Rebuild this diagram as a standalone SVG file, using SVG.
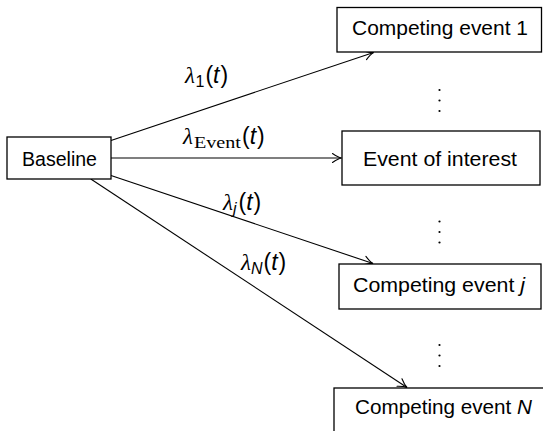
<svg xmlns="http://www.w3.org/2000/svg" width="543" height="431" viewBox="0 0 543 431">
  <style>
    .box { fill: #ffffff; stroke: #000000; stroke-width: 1.3; }
    .lbl { font-family: "Liberation Sans", Arial, sans-serif; font-size: 20.5px; fill: #000000; }
    .math { font-family: "Liberation Sans", Arial, sans-serif; font-size: 23px; fill: #000000; }
    .lam { font-family: "Liberation Serif", "DejaVu Serif", serif; font-style: italic; }
    .it { font-style: italic; }
    .sub { font-size: 16px; }
    .rm { font-family: "Liberation Serif", "DejaVu Serif", serif; font-size: 17px; }
    .edge { fill: none; stroke: #000000; stroke-width: 1.1; marker-end: url(#to); }
    .dot { fill: #000000; }
  </style>
  <defs>
    <!-- open "to"-style arrow tip -->
    <marker id="to" markerUnits="userSpaceOnUse" viewBox="-10 -6 12 12" markerWidth="12" markerHeight="12" refX="0" refY="0" orient="auto" overflow="visible">
      <path d="M -9,-4.5 Q -3.5,-0.7 0,0 Q -3.5,0.7 -9,4.5" fill="none" stroke="#000000" stroke-width="1.1" stroke-linecap="round"/>
    </marker>
  </defs>

  <!-- connectors -->
  <g id="edges">
    <path class="edge" d="M 111,140.4 L 373.6,52.5"/>
    <path class="edge" d="M 111,158 L 341.5,158"/>
    <path class="edge" d="M 111,175.5 L 373,263.5"/>
    <path class="edge" d="M 90.8,179 L 407,387.5"/>
  </g>

  <!-- edge labels -->
  <g id="edge-labels">
    <text class="math" x="185" y="83"><tspan class="lam">λ</tspan><tspan class="sub" dx="0.5" dy="3.5">1</tspan><tspan dx="1" dy="-3.5">(</tspan><tspan class="it">t</tspan><tspan dx="1">)</tspan></text>
    <text class="math" x="183" y="144"><tspan class="lam">λ</tspan><tspan class="rm" dx="1" dy="4" textLength="47" lengthAdjust="spacingAndGlyphs">Event</tspan><tspan dx="1" dy="-4">(</tspan><tspan class="it">t</tspan><tspan dx="1">)</tspan></text>
    <text class="math" x="223" y="210"><tspan class="lam">λ</tspan><tspan class="sub it" dx="0" dy="4">j</tspan><tspan dx="2" dy="-4">(</tspan><tspan class="it">t</tspan><tspan dx="1">)</tspan></text>
    <text class="math" x="241" y="270"><tspan class="lam">λ</tspan><tspan class="sub it" dx="0" dy="4">N</tspan><tspan dx="1" dy="-4">(</tspan><tspan class="it">t</tspan><tspan dx="1">)</tspan></text>
  </g>

  <!-- nodes -->
  <g id="baseline">
    <rect class="box" x="7" y="137" width="104" height="42"/>
    <text class="lbl" x="22" y="166" textLength="75" lengthAdjust="spacingAndGlyphs">Baseline</text>
  </g>

  <g id="competing-1">
    <rect class="box" x="337" y="7.5" width="204.5" height="44.5"/>
    <text class="lbl" x="352" y="35" textLength="176" lengthAdjust="spacingAndGlyphs">Competing event 1</text>
  </g>

  <g id="event-of-interest">
    <rect class="box" x="342" y="131" width="198" height="54"/>
    <text class="lbl" x="363" y="166" textLength="154" lengthAdjust="spacingAndGlyphs">Event of interest</text>
  </g>

  <g id="competing-j">
    <rect class="box" x="339" y="264" width="202" height="45"/>
    <text class="lbl" x="353" y="291.5" textLength="172" lengthAdjust="spacingAndGlyphs">Competing event <tspan class="it">j</tspan></text>
  </g>

  <g id="competing-N">
    <rect class="box" x="334" y="388" width="220" height="45"/>
    <text class="lbl" x="355" y="414" textLength="177" lengthAdjust="spacingAndGlyphs">Competing event <tspan class="it">N</tspan></text>
  </g>

  <!-- vertical ellipses between nodes -->
  <g id="vdots-1">
    <circle class="dot" cx="439.5" cy="90" r="1.1"/>
    <circle class="dot" cx="439.5" cy="100.5" r="1.1"/>
    <circle class="dot" cx="439.5" cy="111" r="1.1"/>
  </g>
  <g id="vdots-2">
    <circle class="dot" cx="439.5" cy="221.5" r="1.1"/>
    <circle class="dot" cx="439.5" cy="232" r="1.1"/>
    <circle class="dot" cx="439.5" cy="242.5" r="1.1"/>
  </g>
  <g id="vdots-3">
    <circle class="dot" cx="439.5" cy="345" r="1.1"/>
    <circle class="dot" cx="439.5" cy="355.5" r="1.1"/>
    <circle class="dot" cx="439.5" cy="366" r="1.1"/>
  </g>
</svg>
